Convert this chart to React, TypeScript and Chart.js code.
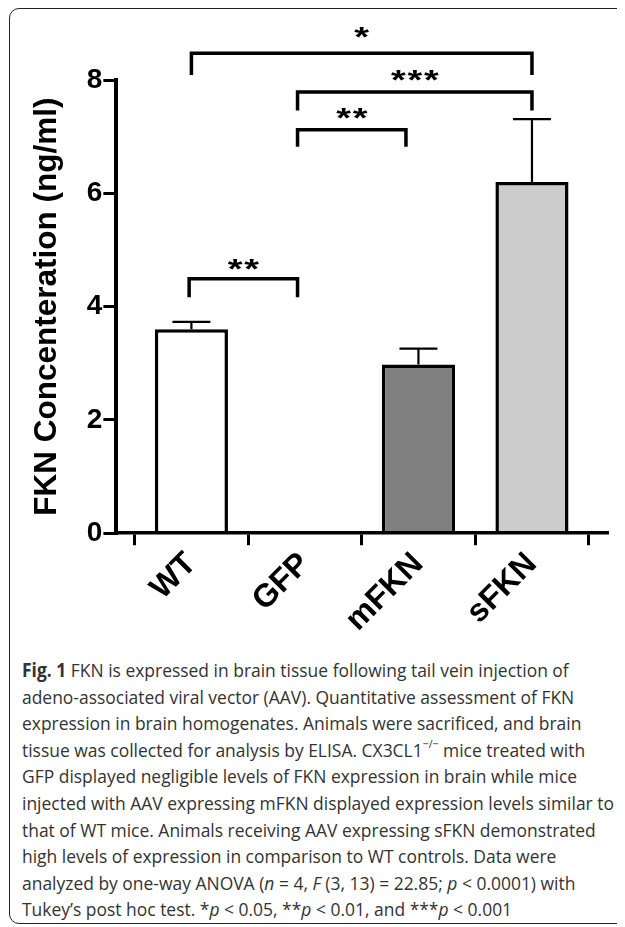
import React, { useEffect, useRef, useState } from 'react';
import { Chart, registerables } from 'chart.js';

Chart.register(...registerables);

const categories = ['WT', 'GFP', 'mFKN', 'sFKN'];
const means = [3.6, 0, 2.98, 6.2];
const errorTops = [3.73, 0, 3.26, 7.31];
const barColors = ['#ffffff', '#ffffff', '#808080', '#cccccc'];
const yTickValues = [0, 2, 4, 6, 8];

const bracketLabels = ['*', '***', '**', '**'];
const bracketFrom = [0, 0.935, 0.935, -0.02];
const bracketTo = [3.0, 3.0, 1.89, 0.935];
const bracketTop = [8.47, 7.79, 7.12, 4.49];
const bracketLegEnd = [8.09, 7.46, 6.82, 4.165];
const bracketLabelY = [8.83, 8.06, 7.4, 4.73];

const CHART_FONT = '"Liberation Sans", Arial, sans-serif';
const CAPTION_FONT = '"Open Sans", "Noto Sans", sans-serif';
const CAPTION_SIZE = 19;
const REF_LINE = 'injected with AAV expressing mFKN displayed expression levels similar to';
const REF_LINE_WIDTH = 592;

const sigPlugin = {
  id: 'sigPlugin',
  afterDatasetsDraw(chart: any) {
    const { ctx, scales } = chart;
    const x = scales.x;
    const y = scales.y;
    ctx.save();
    ctx.strokeStyle = '#000';
    ctx.lineCap = 'butt';
    ctx.lineWidth = 2.2;
    means.forEach((m, i) => {
      if (errorTops[i] <= m) return;
      const px = x.getPixelForValue(i);
      const y0 = y.getPixelForValue(m);
      const y1 = y.getPixelForValue(errorTops[i]);
      ctx.beginPath();
      ctx.moveTo(px, y0);
      ctx.lineTo(px, y1);
      ctx.moveTo(px - 19, y1);
      ctx.lineTo(px + 19, y1);
      ctx.stroke();
    });
    ctx.restore();
  },
  afterDraw(chart: any) {
    const { ctx, scales } = chart;
    const x = scales.x;
    const y = scales.y;
    ctx.save();
    ctx.strokeStyle = '#000';
    ctx.fillStyle = '#000';
    ctx.lineWidth = 3.5;
    ctx.lineJoin = 'miter';
    ctx.lineCap = 'butt';
    bracketLabels.forEach((lab, i) => {
      const xa = x.getPixelForValue(bracketFrom[i]);
      const xb = x.getPixelForValue(bracketTo[i]);
      const yt = y.getPixelForValue(bracketTop[i]);
      const yl = y.getPixelForValue(bracketLegEnd[i]);
      ctx.beginPath();
      ctx.moveTo(xa, yl);
      ctx.lineTo(xa, yt);
      ctx.lineTo(xb, yt);
      ctx.lineTo(xb, yl);
      ctx.stroke();
      ctx.font = 'bold 28px ' + CHART_FONT;
      ctx.textAlign = 'center';
      ctx.textBaseline = 'middle';
      const cx = (xa + xb) / 2;
      const cy = y.getPixelForValue(bracketLabelY[i]);
      const n = lab.length;
      const spacing = 16.5;
      for (let k = 0; k < n; k++) {
        ctx.save();
        ctx.translate(cx + (k - (n - 1) / 2) * spacing, cy + 5);
        ctx.scale(1.35, 1);
        ctx.fillText(lab[k], 0, 0);
        ctx.restore();
      }
    });
    ctx.restore();
  },
};

function measureCaptionScale(): number {
  try {
    const c = document.createElement('canvas');
    const g = c.getContext('2d');
    if (!g) return 1;
    g.font = `${CAPTION_SIZE}px ${CAPTION_FONT}`;
    const w = g.measureText(REF_LINE).width;
    return w > 0 ? REF_LINE_WIDTH / w : 1;
  } catch (e) {
    return 1;
  }
}

export default function App() {
  const ref = useRef<HTMLCanvasElement | null>(null);
  const [capScale] = useState(() => measureCaptionScale());

  useEffect(() => {
    if (!ref.current) return;
    const chart = new Chart(ref.current, {
      type: 'bar',
      data: {
        datasets: [
          {
            data: means.map((v, i) => ({ x: i, y: v })),
            backgroundColor: barColors,
            borderColor: '#000',
            borderWidth: 3.5,
            borderSkipped: 'bottom',
            barPercentage: 0.644,
            categoryPercentage: 1,
          },
        ],
      },
      options: {
        animation: false,
        responsive: true,
        maintainAspectRatio: false,
        layout: { padding: { left: 20, right: 18, top: 72, bottom: 14 } },
        plugins: { legend: { display: false }, tooltip: { enabled: false } },
        scales: {
          x: {
            type: 'linear',
            offset: false,
            min: -0.661,
            max: 3.661,
            afterBuildTicks: (scale: any) => {
              scale.ticks = categories.map((_, i) => ({ value: i }));
            },
            ticks: {
              callback: (v: any) => categories[v as number] ?? '',
              maxRotation: 45,
              minRotation: 45,
              padding: 0,
              color: '#000',
              font: { family: CHART_FONT, size: 32, weight: 'bold' },
            },
            grid: {
              display: true,
              drawOnChartArea: false,
              drawTicks: true,
              tickLength: 12,
              lineWidth: 3,
              color: '#000',
            },
            border: { display: true, color: '#000', width: 3.5, z: 1 },
          },
          y: {
            min: 0,
            max: 8,
            afterBuildTicks: (scale: any) => {
              scale.ticks = yTickValues.map((v) => ({ value: v }));
            },
            ticks: {
              padding: 1,
              color: '#000',
              font: { family: CHART_FONT, size: 28, weight: 'bold' },
            },
            grid: {
              display: true,
              drawOnChartArea: false,
              drawTicks: true,
              tickLength: 13,
              lineWidth: 3,
              color: '#000',
            },
            border: { display: true, color: '#000', width: 4, z: 1 },
            title: {
              display: true,
              text: 'FKN Concenteration (ng/ml)',
              color: '#000',
              font: { family: CHART_FONT, size: 31.5, weight: 'bold', lineHeight: 1.2 },
              padding: { top: 0, bottom: 20 },
            },
          },
        },
      },
      plugins: [sigPlugin],
    });
    return () => chart.destroy();
  }, []);

  const lineStyle: React.CSSProperties = { display: 'block', whiteSpace: 'nowrap' };

  return (
    <div style={{ position: 'relative', width: 617, height: 919, overflow: 'hidden' }}>
      <div
        style={{
          position: 'absolute',
          left: 1,
          top: 0,
          width: 660,
          height: 916,
          border: '1.5px solid #222',
          borderRadius: 10,
          boxSizing: 'border-box',
        }}
      />
      <div style={{ position: 'absolute', left: 0, top: 0, width: 617, height: 645 }}>
        <canvas ref={ref} />
      </div>
      <div
        style={{
          position: 'absolute',
          left: 14,
          top: 649,
          fontFamily: CAPTION_FONT,
          fontSize: CAPTION_SIZE,
          lineHeight: '26.6px',
          color: '#333',
          transformOrigin: 'left top',
          transform: `scaleX(${capScale})`,
        }}
      >
        <span style={lineStyle}>
          <b>Fig. 1</b> FKN is expressed in brain tissue following tail vein injection of
        </span>
        <span style={lineStyle}>adeno-associated viral vector (AAV). Quantitative assessment of FKN</span>
        <span style={lineStyle}>expression in brain homogenates. Animals were sacrificed, and brain</span>
        <span style={lineStyle}>
          tissue was collected for analysis by ELISA. CX3CL1
          <sup style={{ fontSize: '0.6em', lineHeight: 0, verticalAlign: '0.75em' }}>−/−</sup> mice treated with
        </span>
        <span style={lineStyle}>GFP displayed negligible levels of FKN expression in brain while mice</span>
        <span style={lineStyle}>{REF_LINE}</span>
        <span style={lineStyle}>that of WT mice. Animals receiving AAV expressing sFKN demonstrated</span>
        <span style={lineStyle}>high levels of expression in comparison to WT controls. Data were</span>
        <span style={lineStyle}>
          analyzed by one-way ANOVA (<i>n</i> = 4, <i>F</i> (3, 13) = 22.85; <i>p</i> &lt; 0.0001) with
        </span>
        <span style={lineStyle}>
          Tukey’s post hoc test. *<i>p</i> &lt; 0.05, **<i>p</i> &lt; 0.01, and ***<i>p</i> &lt; 0.001
        </span>
      </div>
    </div>
  );
}
